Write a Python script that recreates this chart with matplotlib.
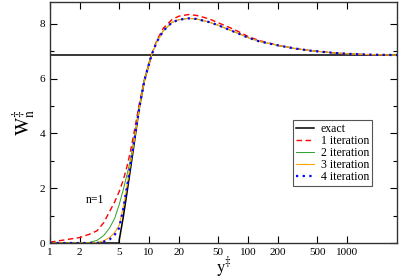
import numpy as np
import matplotlib
matplotlib.use("Agg")
import matplotlib.pyplot as plt
from matplotlib.ticker import FixedLocator, FixedFormatter, MultipleLocator

plt.rcParams['font.family'] = ['Liberation Serif', 'DejaVu Serif']
plt.rcParams['mathtext.fontset'] = 'stix'

yp = [1, 2, 2.5, 3, 3.5, 4, 4.5, 5, 5.5, 6, 6.5, 7, 8, 9, 10.6, 12, 14, 17, 20, 25,
      30, 40, 50, 65, 80, 100, 130, 170, 210, 300, 430, 600, 800, 1100, 1600, 2200, 3200]

w_iter1 = [0.03, 0.2, 0.32, 0.45, 0.75, 1.15, 1.5, 1.88, 2.3, 2.8, 3.35, 3.95, 5.1, 5.95, 6.86,
           7.4, 7.85, 8.15, 8.28, 8.34, 8.31, 8.19, 8.04, 7.87, 7.72, 7.54, 7.39, 7.28, 7.2,
           7.1, 7.02, 6.97, 6.93, 6.9, 6.88, 6.87, 6.86]
w_iter2 = [0.0, 0.0, 0.02, 0.1, 0.28, 0.55, 0.9, 1.4, 1.95, 2.5, 3.05, 3.7, 5.0, 5.95, 6.86,
           7.35, 7.75, 8.05, 8.15, 8.2, 8.18, 8.07, 7.95, 7.78, 7.65, 7.5, 7.36, 7.27, 7.2,
           7.1, 7.02, 6.97, 6.93, 6.9, 6.88, 6.87, 6.86]
w_iter3 = [0.0, 0.0, 0.0, 0.02, 0.08, 0.2, 0.38, 0.65, 1.3, 2.1, 2.9, 3.6, 4.95, 5.95, 6.86,
           7.35, 7.75, 8.05, 8.15, 8.2, 8.18, 8.07, 7.95, 7.78, 7.65, 7.5, 7.36, 7.27, 7.2,
           7.1, 7.02, 6.97, 6.93, 6.9, 6.88, 6.87, 6.86]
w_iter4 = [0.0, 0.0, 0.0, 0.0, 0.05, 0.13, 0.3, 0.55, 1.25, 2.05, 2.85, 3.6, 4.95, 5.95, 6.86,
           7.35, 7.75, 8.05, 8.15, 8.2, 8.18, 8.07, 7.95, 7.78, 7.65, 7.5, 7.36, 7.27, 7.2,
           7.1, 7.02, 6.97, 6.93, 6.9, 6.88, 6.87, 6.86]

yp_exact = [1, 5, 5, 5.5, 6, 6.5, 7, 8, 9, 10.6]
w_exact = [0, 0, 0.1, 0.95, 1.85, 2.7, 3.5, 4.95, 5.95, 6.86]
w_limit = 6.86

xticks = [1, 2, 5, 10, 20, 50, 100, 200, 500, 1000]
xticklabels = ['1', '2', '5', '10', '20', '50', '100', '200', '500', '1000']

fig = plt.figure(figsize=(3.99, 2.79), dpi=100)
ax = fig.add_axes([0.1253, 0.129, 0.8697, 0.864])

ax.plot(yp_exact, w_exact, color='black', lw=1.1, label='exact')
ax.axhline(w_limit, color='black', lw=1.1)
ax.plot(yp, w_iter1, color='red', lw=1.0, ls=(0, (4, 2.5)), label='1 iteration')
ax.plot(yp, w_iter2, color='#2ca02c', lw=0.7, label='2 iteration')
ax.plot(yp, w_iter3, color='orange', lw=0.8, label='3 iteration')
ax.plot(yp, w_iter4, color='blue', lw=1.6, ls=(0, (1, 2)), label='4 iteration')

ax.set_xscale('log')
ax.set_xlim(1, 3200)
ax.set_ylim(0, 8.8)
ax.xaxis.set_major_locator(FixedLocator(xticks))
ax.xaxis.set_major_formatter(FixedFormatter(xticklabels))
ax.xaxis.set_minor_locator(FixedLocator([]))
ax.yaxis.set_major_locator(MultipleLocator(2))
ax.yaxis.set_minor_locator(MultipleLocator(1))
ax.tick_params(which='both', direction='in', top=True, right=True, labelsize=8)
ax.tick_params(which='major', length=5, width=0.8)
ax.tick_params(which='minor', length=3, width=0.8)
for s in ax.spines.values():
    s.set_linewidth(1.0)
    s.set_color('#333333')

ax.text(2.85, 1.57, 'n=1', fontsize=8.5, ha='center', va='center')

ax.set_xlabel(r'$\mathrm{y}^{\ddagger}$', fontsize=12, labelpad=-1)
ax.set_ylabel(r'$\mathrm{W}^{\ddagger}_{\mathrm{n}}$', fontsize=14, labelpad=1)

leg = ax.legend(loc='lower left', bbox_to_anchor=(0.70, 0.237), fontsize=8.5,
                fancybox=False, edgecolor='#555555', framealpha=1,
                handlelength=1.5, labelspacing=0.0, borderpad=0.25, handletextpad=0.6,
                borderaxespad=0)
leg.get_frame().set_linewidth(0.8)

fig.savefig('out.png', dpi=100)
